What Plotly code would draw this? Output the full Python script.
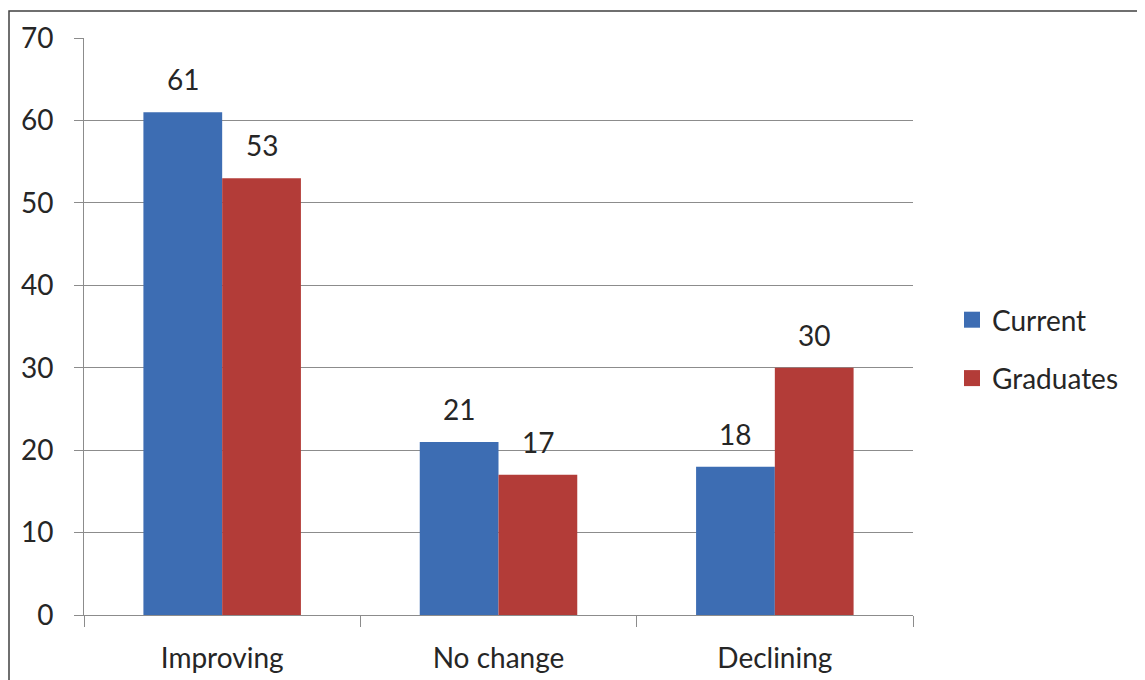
import plotly.graph_objects as go

categories = ["Improving", "No change", "Declining"]
current = [61, 21, 18]
graduates = [53, 17, 30]
series_names = ["Current", "Graduates"]
y_ticks = [0, 10, 20, 30, 40, 50, 60, 70]

BLUE = "#3D6DB3"
RED = "#B33C38"
FONT = "Lato, 'Open Sans', sans-serif"
TXT = "#262626"
GRID = "#8C8C8C"
FS = 28

# the page body has an 8px margin, so the figure is offset by 8px
OFF = 8
W, H = 1145 - OFF, 680 - OFF
ML, MT = 84 - OFF, 38 - OFF
PW, PH = 913 - 84, 615 - 38
MR, MB = W - ML - PW, H - MT - PH

fig = go.Figure()
fig.add_trace(go.Bar(x=categories, y=current, name=series_names[0],
                     marker=dict(color=BLUE, line=dict(width=0)), showlegend=False))
fig.add_trace(go.Bar(x=categories, y=graduates, name=series_names[1],
                     marker=dict(color=RED, line=dict(width=0)), showlegend=False))
# legend entries with larger square swatches
for nm, col, grp in ((series_names[0], BLUE, "a"), (series_names[1], RED, "b")):
    fig.add_trace(go.Scatter(x=[None], y=[None], mode="markers", name=nm, legendgroup=grp,
                             marker=dict(symbol="square", size=18, color=col)))

# value labels above bars
bar_px = PW / len(categories) * (1 - 0.43) / 2
for vals, sh in ((current, -bar_px / 2), (graduates, bar_px / 2)):
    for c, v in zip(categories, vals):
        fig.add_annotation(x=c, y=v, text=str(v), showarrow=False,
                           xshift=sh, yshift=14, yanchor="bottom",
                           font=dict(family=FONT, size=FS, color=TXT))


def px_x(p):
    return (p - OFF - ML) / PW


def px_y(p):
    return (H - MB - (p - OFF)) / PH


# outer chart border (no bottom edge visible)
fig.add_shape(type="path", xref="paper", yref="paper",
              path=f"M {px_x(9)} {px_y(700)} L {px_x(9)} {px_y(11)} L {px_x(1139)} {px_y(11)} L {px_x(1139)} {px_y(700)}",
              line=dict(color="#404040", width=1.5))

fig.update_layout(
    width=W, height=H,
    margin=dict(l=ML, r=MR, t=MT, b=MB, autoexpand=False),
    paper_bgcolor="white", plot_bgcolor="white",
    barmode="group", bargap=0.43, bargroupgap=0,
    font=dict(family=FONT, size=FS, color=TXT),
    legend=dict(x=px_x(952), xanchor="left", y=px_y(349), yanchor="middle",
                font=dict(family=FONT, size=FS, color=TXT),
                traceorder="grouped", tracegroupgap=19, itemwidth=30,
                bgcolor="rgba(0,0,0,0)"),
    showlegend=True,
)
fig.update_yaxes(range=[0, 70], tickvals=y_ticks, showgrid=True, gridcolor=GRID, gridwidth=1,
                 showline=True, linecolor=GRID, linewidth=1,
                 ticks="outside", ticklen=9, tickcolor=GRID,
                 ticklabelstandoff=15, zeroline=False, automargin=False,
                 tickfont=dict(family=FONT, size=FS, color=TXT))
fig.update_xaxes(showline=True, linecolor=GRID, linewidth=1,
                 ticks="outside", ticklen=11, tickcolor=GRID, tickson="boundaries",
                 ticklabelstandoff=18, automargin=False,
                 tickfont=dict(family=FONT, size=FS, color=TXT))

fig.write_html("out.html")
